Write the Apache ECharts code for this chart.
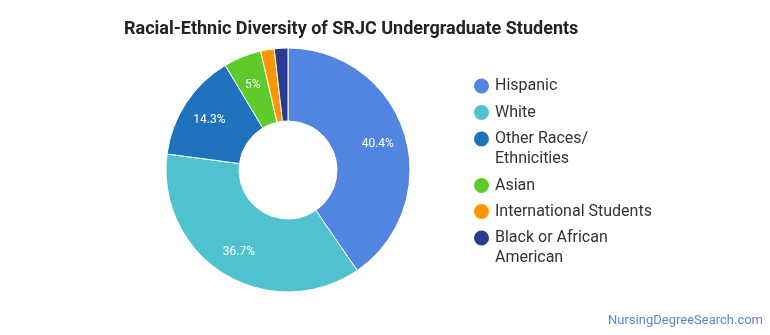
<!DOCTYPE html>
<html><head><meta charset="utf-8">
<script src="https://cdn.jsdelivr.net/npm/echarts@6/dist/echarts.min.js"></script>
<style>html,body{margin:0;padding:0;background:#fff}#c{width:770px;height:335px}</style>
</head><body><div id="c"></div>
<script>
const categories = ["Hispanic", "White", "Other Races/\nEthnicities", "Asian", "International Students", "Black or African\nAmerican"];
const values = [40.4, 36.7, 14.3, 5, 1.8, 1.8];
const colors = ["#5185e1", "#4fc1cf", "#1f73bd", "#5fcb2a", "#ff9500", "#2a3a8f"];
const showLabel = [true, true, true, true, false, false];
const legendIconY = [84, 110.5, 137, 183.5, 209.5, 236];

const CX = 288, CY = 170, LABEL_R = 94;
const chart = echarts.init(document.getElementById('c'), null, {renderer: 'canvas'});
const legends = categories.map((n, i) => {
  const two = n.indexOf('\n') >= 0;
  return {
    orient: 'vertical', left: 472, top: legendIconY[i] - (two ? 28 : 8), padding: 0,
    icon: 'circle', itemWidth: 17, itemHeight: 17,
    textStyle: {fontFamily: 'Roboto', fontSize: 16, color: '#333', lineHeight: 20},
    formatter: name => name.indexOf('\n') >= 0 ? '\n' + name : name,
    data: [n]
  };
});
chart.setOption({
  animation: false,
  title: {
    text: 'Racial-Ethnic Diversity of SRJC Undergraduate Students',
    left: 119, top: 15,
    textStyle: {fontFamily: 'Roboto', fontWeight: 'bold', fontSize: 18, color: '#222'}
  },
  graphic: [{
    type: 'text', right: 7, top: 314,
    style: {text: 'NursingDegreeSearch.com', fill: '#5b86d4', font: '13px Roboto'}
  }],
  legend: legends,
  series: [{
    type: 'pie',
    center: [CX, CY], radius: [49, 122],
    startAngle: 90, clockwise: true,
    avoidLabelOverlap: false,
    itemStyle: {borderColor: '#fff', borderWidth: 1},
    label: {position: 'inside', color: '#fff', fontFamily: 'Roboto', fontSize: 12,
      formatter: p => p.value + '%'},
    labelLine: {show: false},
    labelLayout: function (params) {
      const r = params.labelRect;
      const mx = r.x + r.width / 2 - CX, my = r.y + r.height / 2 - CY;
      const d = Math.sqrt(mx * mx + my * my) || 1;
      return {x: CX + mx / d * LABEL_R, y: CY + my / d * LABEL_R + 2};
    },
    data: categories.map((n, i) => ({name: n, value: values[i], itemStyle: {color: colors[i]}, label: {show: showLabel[i]}}))
  }]
});
</script></body></html>
